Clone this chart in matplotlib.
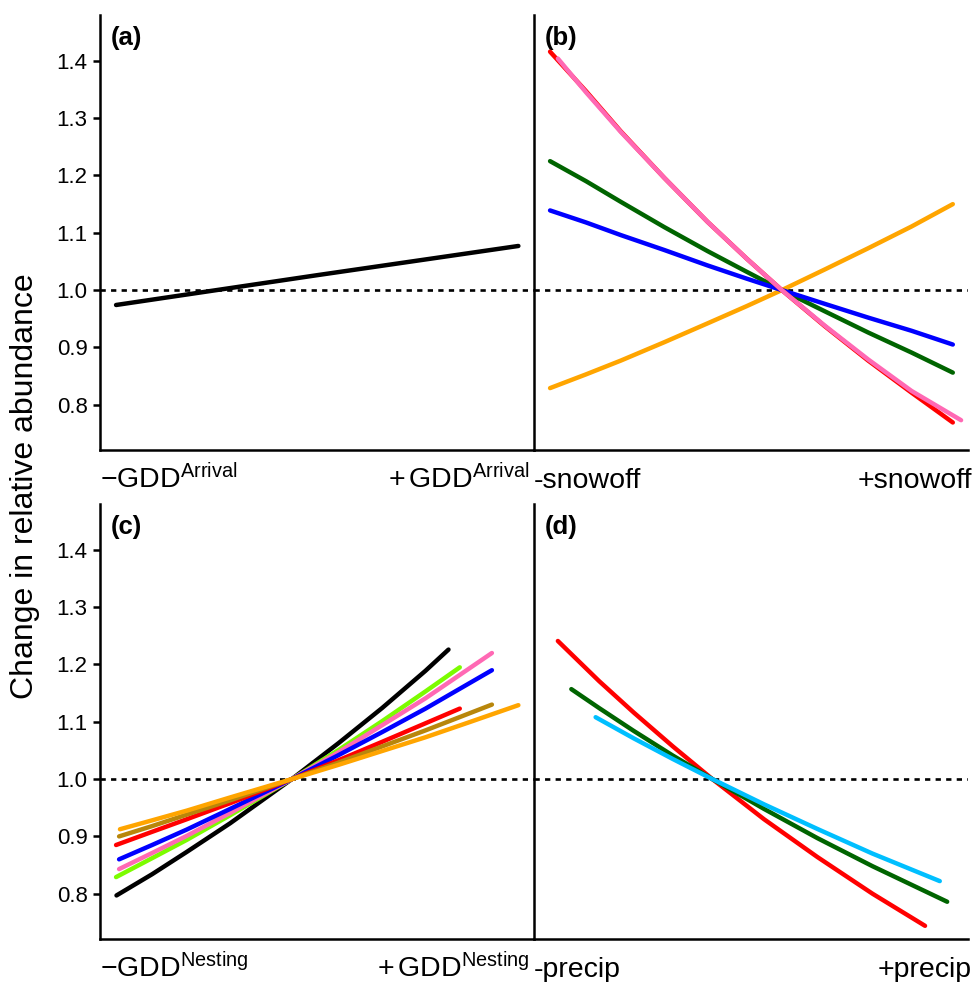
import matplotlib
matplotlib.use("Agg")
import matplotlib.pyplot as plt

plt.rcParams['font.family'] = ['Liberation Sans', 'DejaVu Sans']
plt.rcParams['mathtext.fontset'] = 'custom'
plt.rcParams['mathtext.rm'] = 'Liberation Sans'
plt.rcParams['mathtext.it'] = 'Liberation Sans:italic'
plt.rcParams['mathtext.bf'] = 'Liberation Sans:bold'

# ---------------- data ----------------
y_ticks = [0.8, 0.9, 1.0, 1.1, 1.2, 1.3, 1.4]
y_tick_labels = ["0.8", "0.9", "1.0", "1.1", "1.2", "1.3", "1.4"]

# panel (a)
a_black_x = [0.037, 0.50, 0.964]
a_black_y = [0.974, 1.026, 1.077]

# panel (b)
b_x = [0.037, 0.12, 0.20, 0.30, 0.40, 0.49, 0.571, 0.67, 0.77, 0.87, 0.965]
b_pink_x = [0.055, 0.12, 0.20, 0.30, 0.40, 0.49, 0.571, 0.67, 0.77, 0.87, 0.984]
b_orange = [0.829, 0.853, 0.877, 0.909, 0.942, 0.972, 1.0, 1.036, 1.073, 1.111, 1.150]
b_blue = [1.139, 1.118, 1.096, 1.070, 1.043, 1.020, 1.0, 0.976, 0.952, 0.929, 0.905]
b_green = [1.225, 1.190, 1.154, 1.110, 1.068, 1.032, 1.0, 0.963, 0.926, 0.891, 0.856]
b_red = [1.416, 1.347, 1.277, 1.196, 1.119, 1.055, 1.0, 0.937, 0.877, 0.821, 0.769]
b_pink = [1.404, 1.345, 1.276, 1.196, 1.119, 1.055, 1.0, 0.938, 0.879, 0.824, 0.773]

# panel (c)
c_black_x = [0.038, 0.12, 0.20, 0.30, 0.442, 0.55, 0.65, 0.75, 0.803]
c_black = [0.797, 0.834, 0.873, 0.923, 1.0, 1.063, 1.124, 1.189, 1.226]
c_lime_x = [0.037, 0.12, 0.20, 0.30, 0.442, 0.55, 0.65, 0.75, 0.829]
c_lime = [0.829, 0.862, 0.894, 0.937, 1.0, 1.051, 1.101, 1.153, 1.195]
c_pink_x = [0.044, 0.12, 0.20, 0.30, 0.442, 0.55, 0.65, 0.75, 0.903]
c_pink = [0.843, 0.871, 0.901, 0.941, 1.0, 1.047, 1.094, 1.141, 1.220]
c_blue_x = [0.044, 0.12, 0.20, 0.30, 0.442, 0.55, 0.65, 0.75, 0.903]
c_blue = [0.860, 0.885, 0.912, 0.948, 1.0, 1.042, 1.082, 1.123, 1.190]
c_red_x = [0.037, 0.12, 0.20, 0.30, 0.442, 0.55, 0.65, 0.829]
c_red = [0.885, 0.908, 0.930, 0.958, 1.0, 1.033, 1.065, 1.123]
c_brown_x = [0.044, 0.12, 0.20, 0.30, 0.442, 0.55, 0.65, 0.75, 0.903]
c_brown = [0.900, 0.918, 0.938, 0.963, 1.0, 1.029, 1.057, 1.085, 1.130]
c_orange_x = [0.046, 0.12, 0.20, 0.30, 0.442, 0.55, 0.65, 0.75, 0.85, 0.964]
c_orange = [0.9125, 0.928, 0.945, 0.968, 1.0, 1.025, 1.049, 1.073, 1.099, 1.129]

# panel (d)
d_red_x = [0.055, 0.15, 0.23, 0.32, 0.411, 0.53, 0.653, 0.78, 0.901]
d_red = [1.241, 1.171, 1.116, 1.057, 1.0, 0.930, 0.864, 0.800, 0.744]
d_green_x = [0.086, 0.15, 0.23, 0.32, 0.411, 0.53, 0.653, 0.78, 0.952]
d_green = [1.157, 1.124, 1.084, 1.041, 1.0, 0.948, 0.897, 0.848, 0.786]
d_blue_x = [0.142, 0.23, 0.32, 0.411, 0.53, 0.653, 0.78, 0.935]
d_blue = [1.108, 1.071, 1.035, 1.0, 0.956, 0.913, 0.870, 0.822]

panel_labels = ["(a)", "(b)", "(c)", "(d)"]
x_left_labels = [r"$-\mathrm{GDD}^{\mathrm{Arrival}}$", "-snowoff",
                 r"$-\mathrm{GDD}^{\mathrm{Nesting}}$", "-precip"]
x_right_labels = [r"$+\,\mathrm{GDD}^{\mathrm{Arrival}}$", "+snowoff",
                  r"$+\,\mathrm{GDD}^{\mathrm{Nesting}}$", "+precip"]
y_label = "Change in relative abundance"

# ---------------- figure ----------------
W, H = 976, 982
fig = plt.figure(figsize=(W / 100, H / 100), dpi=100)

def frac_rect(x0, y0, x1, y1):
    return [x0 / W, 1 - y1 / H, (x1 - x0) / W, (y1 - y0) / H]

rects = [frac_rect(100, 15, 534, 450), frac_rect(534, 15, 968, 450),
         frac_rect(100, 504, 534, 939), frac_rect(534, 504, 968, 939)]
axes = [fig.add_axes(r) for r in rects]

LW = 3.2
for i, ax in enumerate(axes):
    ax.set_xlim(0, 1)
    ax.set_ylim(0.721, 1.48)
    for s in ["top", "right"]:
        ax.spines[s].set_visible(False)
    for s in ["left", "bottom"]:
        ax.spines[s].set_linewidth(1.8)
        ax.spines[s].set_color("black")
    ax.set_xticks([])
    if i in (0, 2):
        ax.set_yticks(y_ticks)
        ax.set_yticklabels(y_tick_labels, fontsize=16)
        ax.tick_params(axis="y", length=5, width=1.8, pad=4, colors="black")
    else:
        ax.set_yticks([])
    ax.axhline(1.0, color="black", lw=1.9, linestyle=(0, (2.0, 2.0)), zorder=1)
    ax.text(0.025, 0.975, panel_labels[i], transform=ax.transAxes,
            fontsize=18.5, fontweight="bold", ha="left", va="top")
    ax.annotate(x_left_labels[i], xy=(0, 0), xycoords="axes fraction",
                xytext=(0, -27.5), textcoords="offset points",
                ha="left", va="baseline", fontsize=20.5)
    ax.annotate(x_right_labels[i], xy=(1, 0), xycoords="axes fraction",
                xytext=(-3 if i in (0, 2) else 3, -27.5), textcoords="offset points",
                ha="right", va="baseline", fontsize=20.5)

kw = dict(lw=LW, solid_capstyle="round", solid_joinstyle="round", zorder=3)

# (a)
axes[0].plot(a_black_x, a_black_y, color="black", **kw)

# (b)
axb = axes[1]
axb.plot(b_x, b_orange, color="#FFA500", **kw)
axb.plot(b_x, b_green, color="#006400", **kw)
axb.plot(b_x, b_blue, color="#0000FF", **kw)
axb.plot(b_x, b_red, color="#FF0000", **kw)
axb.plot(b_pink_x, b_pink, color="#FF69B4", **kw)

# (c)
axc = axes[2]
axc.plot(c_black_x, c_black, color="black", **kw)
axc.plot(c_lime_x, c_lime, color="#7CFC00", **kw)
axc.plot(c_pink_x, c_pink, color="#FF69B4", **kw)
axc.plot(c_blue_x, c_blue, color="#0000FF", **kw)
axc.plot(c_red_x, c_red, color="#FF0000", **kw)
axc.plot(c_brown_x, c_brown, color="#B8860B", **kw)
axc.plot(c_orange_x, c_orange, color="#FFA500", **kw)

# (d)
axd = axes[3]
axd.plot(d_red_x, d_red, color="#FF0000", **kw)
axd.plot(d_green_x, d_green, color="#006400", **kw)
axd.plot(d_blue_x, d_blue, color="#00BFFF", **kw)

fig.text(25 / W, 1 - 486 / H, y_label, rotation=90, ha="center", va="center",
         fontsize=23)

fig.savefig("out.png", dpi=100)
